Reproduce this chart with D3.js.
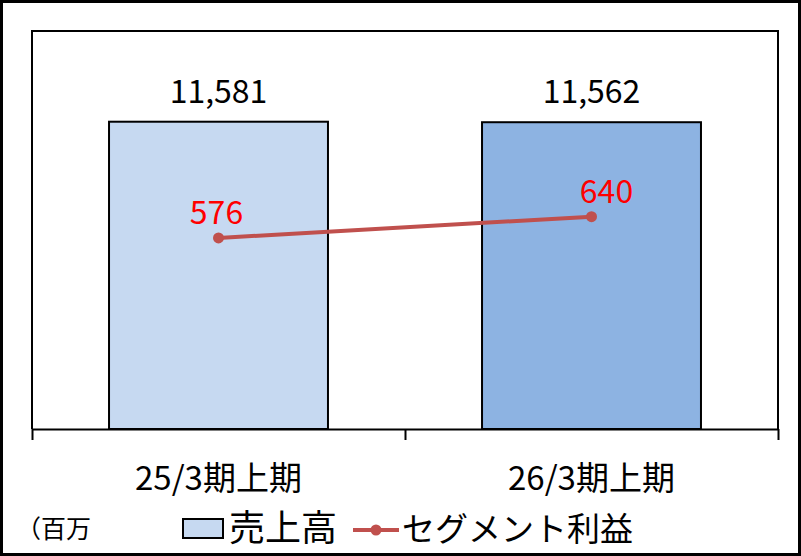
<!DOCTYPE html>
<html>
<head>
<meta charset="utf-8">
<script src="https://cdn.jsdelivr.net/npm/d3@7"></script>
<style>
  body { margin: 0; background: #fff; }
  text { font-family: "Noto Sans CJK JP", "Noto Sans", sans-serif; }
</style>
</head>
<body>
<div id="chart"></div>
<script>
// chart values
const categories = ["25/3期上期", "26/3期上期"];
const sales = [11581, 11562];
const profit = [576, 640];
const barColors = ["#C6D9F1", "#8DB3E2"];
const legendLabels = ["売上高", "セグメント利益"];
const unitLabel = "（百万";

var W = 801, H = 556;
var plot = { left: 32, right: 778, top: 31, bottom: 429 };

var svg = d3.select("#chart").append("svg")
    .attr("width", W)
    .attr("height", H);

// outer frame
svg.append("rect")
    .attr("x", 1.5).attr("y", 1.5)
    .attr("width", W - 3).attr("height", H - 3)
    .attr("fill", "#fff")
    .attr("stroke", "#000")
    .attr("stroke-width", 3);

var x = d3.scaleBand()
    .domain(categories)
    .range([plot.left, plot.right])
    .paddingInner(0.413)
    .paddingOuter(0.2065);

var yBar = d3.scaleLinear().domain([0, 15000]).range([plot.bottom, plot.top]);
var yLine = d3.scaleLinear().domain([0, 1200]).range([plot.bottom, plot.top]);

// plot frame (left, top, right)
svg.append("path")
    .attr("d", `M${plot.left},${plot.bottom} V${plot.top} H${plot.right} V${plot.bottom}`)
    .attr("fill", "none")
    .attr("stroke", "#000")
    .attr("stroke-width", 2);

// bars
svg.append("g").selectAll("rect")
    .data(categories)
    .enter().append("rect")
    .attr("x", d => x(d))
    .attr("y", (d, i) => yBar(sales[i]))
    .attr("width", x.bandwidth())
    .attr("height", (d, i) => plot.bottom - yBar(sales[i]))
    .attr("fill", (d, i) => barColors[i])
    .attr("stroke", "#000")
    .attr("stroke-width", 2);

// category axis, ticks between categories
var xTicks = d3.scaleLinear().domain([0, categories.length]).range([plot.left, plot.right]);
var xAxis = d3.axisBottom(xTicks)
    .tickValues(d3.range(categories.length + 1))
    .tickSize(11)
    .tickSizeOuter(0)
    .tickFormat("");
var ax = svg.append("g")
    .attr("transform", `translate(0,${plot.bottom})`)
    .call(xAxis);
ax.select(".domain").attr("stroke", "#000").attr("stroke-width", 2);
ax.selectAll(".tick line").attr("stroke", "#000").attr("stroke-width", 2);

svg.append("g").selectAll("text")
    .data(categories)
    .enter().append("text")
    .attr("x", d => x(d) + x.bandwidth() / 2)
    .attr("y", 490)
    .attr("text-anchor", "middle")
    .attr("font-size", 33)
    .attr("fill", "#000")
    .text(d => d);

// bar value labels
svg.append("g").selectAll("text")
    .data(categories)
    .enter().append("text")
    .attr("x", d => x(d) + x.bandwidth() / 2)
    .attr("y", (d, i) => yBar(sales[i]) - 19)
    .attr("text-anchor", "middle")
    .attr("font-size", 32)
    .attr("fill", "#000")
    .text((d, i) => d3.format(",")(sales[i]));

// profit line
var line = d3.line()
    .x(d => x(d) + x.bandwidth() / 2)
    .y((d, i) => yLine(profit[i]));

svg.append("path")
    .datum(categories)
    .attr("d", line)
    .attr("fill", "none")
    .attr("stroke", "#C0504D")
    .attr("stroke-width", 4);

svg.append("g").selectAll("circle")
    .data(categories)
    .enter().append("circle")
    .attr("cx", d => x(d) + x.bandwidth() / 2)
    .attr("cy", (d, i) => yLine(profit[i]))
    .attr("r", 5.5)
    .attr("fill", "#C0504D");

svg.append("g").selectAll("text")
    .data(categories)
    .enter().append("text")
    .attr("x", (d, i) => x(d) + x.bandwidth() / 2 + (i === 0 ? -2 : 15))
    .attr("y", (d, i) => yLine(profit[i]) - 14)
    .attr("text-anchor", "middle")
    .attr("font-size", 32)
    .attr("fill", "#FF0000")
    .text((d, i) => profit[i]);

// legend
svg.append("text")
    .attr("x", 16)
    .attr("y", 538)
    .attr("font-size", 25)
    .attr("fill", "#000")
    .text(unitLabel);

svg.append("rect")
    .attr("x", 183).attr("y", 519)
    .attr("width", 40).attr("height", 19)
    .attr("fill", barColors[0])
    .attr("stroke", "#000")
    .attr("stroke-width", 2);

svg.append("text")
    .attr("x", 229)
    .attr("y", 541)
    .attr("font-size", 36)
    .attr("fill", "#000")
    .text(legendLabels[0]);

svg.append("line")
    .attr("x1", 353).attr("x2", 399)
    .attr("y1", 530).attr("y2", 530)
    .attr("stroke", "#C0504D")
    .attr("stroke-width", 4);
svg.append("circle")
    .attr("cx", 376).attr("cy", 530)
    .attr("r", 5.5)
    .attr("fill", "#C0504D");

svg.append("text")
    .attr("x", 402)
    .attr("y", 541)
    .attr("font-size", 33)
    .attr("fill", "#000")
    .text(legendLabels[1]);
</script>
</body>
</html>
